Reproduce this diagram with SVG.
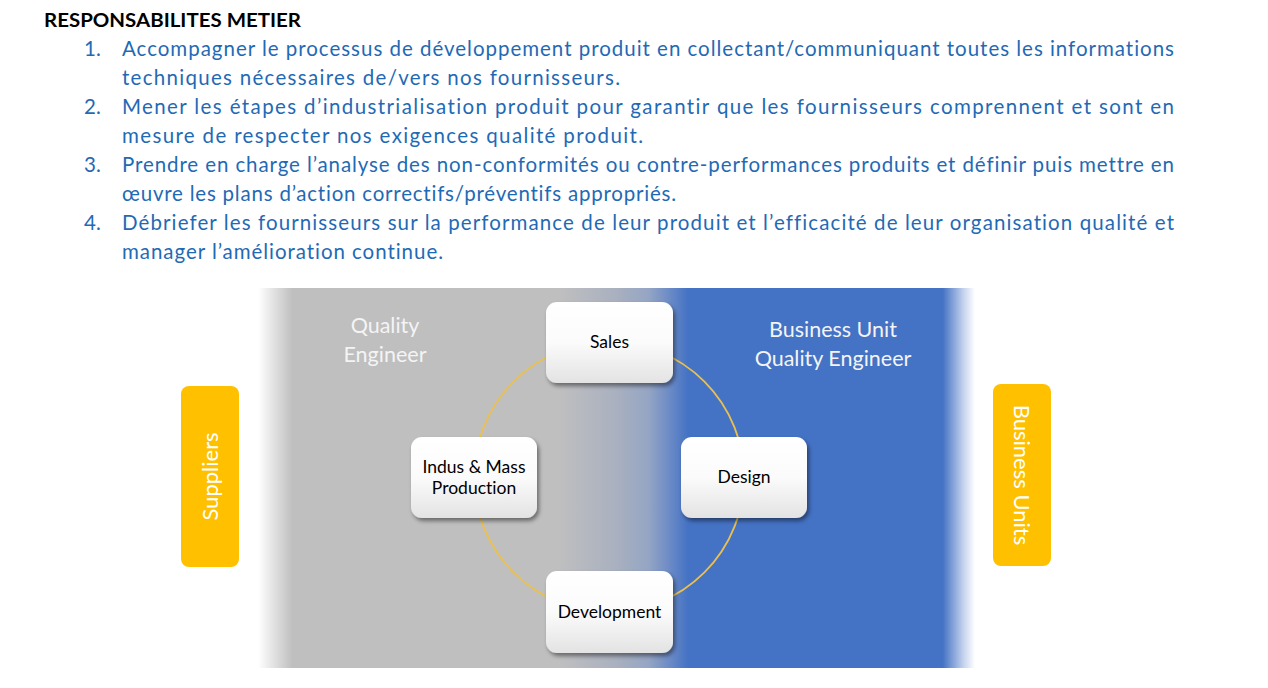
<svg xmlns="http://www.w3.org/2000/svg" width="1268" height="688" viewBox="0 0 1268 688">
<style>
text{font-variant-ligatures:none;font-feature-settings:"liga" 0,"clig" 0}
.title{font-family:Lato,"Liberation Sans",sans-serif;font-weight:bold;font-size:18.5px;fill:#000}
.item{font-family:Lato,"Liberation Sans",sans-serif;font-size:20.5px;fill:#1F6AB5}
.lbl{font-family:Lato,"Liberation Sans",sans-serif;font-size:21.5px;fill:#F4F4F4;text-anchor:middle}
.node rect{fill:url(#nodeGrad);filter:url(#shadow)}
.node text{font-family:Lato,"Liberation Sans",sans-serif;font-size:17.5px;fill:#000;text-anchor:middle}
.side rect{fill:#FFC000}
.side text{font-family:Lato,"Liberation Sans",sans-serif;font-size:22px;fill:#FFFFFF;text-anchor:middle}
.ring{fill:none;stroke:#EBC04E;stroke-width:1.8}
</style>
<defs>
<linearGradient id="bg" x1="258" y1="0" x2="975" y2="0" gradientUnits="userSpaceOnUse">
<stop offset="0" stop-color="#FFFFFF"/>
<stop offset="0.048" stop-color="#BFBFBF"/>
<stop offset="0.42" stop-color="#BFBFBF"/>
<stop offset="0.5" stop-color="#A9B0BF"/>
<stop offset="0.545" stop-color="#94A5C4"/>
<stop offset="0.575" stop-color="#6A8AC6"/>
<stop offset="0.6" stop-color="#4472C4"/>
<stop offset="0.955" stop-color="#4472C4"/>
<stop offset="0.985" stop-color="#C9D6EF"/>
<stop offset="1" stop-color="#FFFFFF"/>
</linearGradient>
<linearGradient id="nodeGrad" x1="0" y1="0" x2="0" y2="1">
<stop offset="0" stop-color="#FFFFFF"/>
<stop offset="0.5" stop-color="#FBFBFB"/>
<stop offset="1" stop-color="#E3E3E3"/>
</linearGradient>
<filter id="shadow" x="-20%" y="-20%" width="150%" height="160%">
<feDropShadow dx="2" dy="3" stdDeviation="2.2" flood-color="#000" flood-opacity="0.45"/>
</filter>
</defs>

<g id="text-block">
<text class="title" x="44" y="27" textLength="257" lengthAdjust="spacingAndGlyphs">RESPONSABILITES METIER</text>
<text class="item" x="84" y="56">1.</text>
<text class="item" x="122" y="56" textLength="1052" lengthAdjust="spacing">Accompagner le processus de développement produit en collectant/communiquant toutes les informations</text>
<text class="item" x="122" y="85" textLength="498" lengthAdjust="spacing">techniques nécessaires de/vers nos fournisseurs.</text>
<text class="item" x="84" y="114">2.</text>
<text class="item" x="122" y="114" textLength="1052" lengthAdjust="spacing">Mener les étapes d’industrialisation produit pour garantir que les fournisseurs comprennent et sont en</text>
<text class="item" x="122" y="143" textLength="521" lengthAdjust="spacing">mesure de respecter nos exigences qualité produit.</text>
<text class="item" x="84" y="172">3.</text>
<text class="item" x="122" y="172" textLength="1052" lengthAdjust="spacing">Prendre en charge l’analyse des non-conformités ou contre-performances produits et définir puis mettre en</text>
<text class="item" x="122" y="201" textLength="554" lengthAdjust="spacing">œuvre les plans d’action correctifs/préventifs appropriés.</text>
<text class="item" x="84" y="230">4.</text>
<text class="item" x="122" y="230" textLength="1052" lengthAdjust="spacing">Débriefer les fournisseurs sur la performance de leur produit et l’efficacité de leur organisation qualité et</text>
<text class="item" x="122" y="259" textLength="321" lengthAdjust="spacing">manager l’amélioration continue.</text>
</g>

<g id="background-panel">
<rect x="258" y="288" width="717" height="380" fill="url(#bg)"/>
<text class="lbl" x="385" y="333">Quality</text>
<text class="lbl" x="385" y="362">Engineer</text>
<text class="lbl" x="833" y="337">Business Unit</text>
<text class="lbl" x="833" y="366">Quality Engineer</text>
</g>

<g id="connectors">
<circle class="ring" cx="609" cy="477" r="135"/>
</g>

<g id="node-sales" class="node">
<rect x="546" y="302" width="127" height="81" rx="11"/>
<text x="609.5" y="348">Sales</text>
</g>
<g id="node-indus" class="node">
<rect x="411" y="437" width="126" height="81" rx="11"/>
<text x="474" y="473">Indus &amp; Mass</text>
<text x="474" y="494">Production</text>
</g>
<g id="node-design" class="node">
<rect x="681" y="437" width="126" height="81" rx="11"/>
<text x="744" y="483">Design</text>
</g>
<g id="node-development" class="node">
<rect x="546" y="571" width="127" height="82" rx="11"/>
<text x="609.5" y="618">Development</text>
</g>

<g id="node-suppliers" class="side">
<rect x="181" y="386" width="58" height="181" rx="8"/>
<text transform="translate(218,476.5) rotate(-90)">Suppliers</text>
</g>
<g id="node-business-units" class="side">
<rect x="993" y="384" width="58" height="182" rx="8"/>
<text transform="translate(1014,475) rotate(90)">Business Units</text>
</g>
</svg>
